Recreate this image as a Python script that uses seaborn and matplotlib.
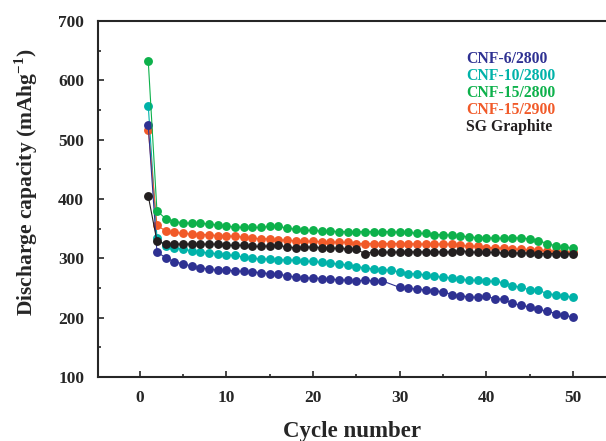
import numpy as np
import pandas as pd
import matplotlib
matplotlib.use('Agg')
import matplotlib.pyplot as plt
from matplotlib.ticker import MultipleLocator
import seaborn as sns

cycles = list(range(1, 51))

cnf6_2800 = [524, 311, 301, 294, 291, 287, 284, 282, 280, 280,
             279, 278, 277, 276, 274, 273, 271, 268, 267, 267,
             266, 265, 264, 263, 262, 263, 262, 262, np.nan, 251,
             250, 248, 247, 245, 244, 239, 237, 235, 234, 236,
             232, 231, 224, 221, 218, 214, 211, 207, 204, 201]

cnf10_2800 = [557, 335, 320, 318, 315, 313, 311, 309, 308, 306,
              305, 302, 300, 299, 299, 298, 297, 297, 295, 295,
              293, 292, 290, 289, 286, 284, 282, 281, 280, 277,
              274, 274, 272, 270, 268, 267, 265, 263, 263, 262,
              261, 259, 254, 251, 247, 247, 240, 239, 237, 234]

cnf15_2800 = [632, 380, 367, 362, 360, 359, 359, 358, 356, 354,
              353, 352, 352, 352, 354, 354, 351, 349, 347, 347,
              346, 346, 345, 345, 345, 345, 345, 345, 345, 344,
              344, 342, 342, 340, 340, 339, 338, 336, 335, 335,
              334, 334, 335, 334, 333, 330, 325, 321, 319, 317]

cnf15_2900 = [516, 356, 346, 344, 342, 341, 340, 340, 338, 338,
              337, 336, 334, 333, 333, 331, 331, 329, 329, 329,
              328, 328, 327, 327, 325, 325, 325, 325, 325, 325,
              325, 324, 324, 324, 324, 324, 322, 321, 320, 318,
              318, 317, 316, 315, 314, 314, 313, 312, 311, 310]

sg_graphite = [405, 329, 324, 324, 324, 324, 324, 324, 324, 322,
               322, 322, 320, 320, 321, 322, 319, 318, 319, 319,
               318, 317, 317, 316, 315, 308, 311, 311, 310, 311,
               311, 311, 311, 311, 311, 311, 313, 311, 310, 310,
               310, 309, 309, 309, 309, 308, 308, 308, 308, 307]

labels = ['CNF-6/2800', 'CNF-10/2800', 'CNF-15/2800', 'CNF-15/2900', 'SG Graphite']
series = [cnf6_2800, cnf10_2800, cnf15_2800, cnf15_2900, sg_graphite]
colors = ['#2e3192', '#00b2a9', '#0db14b', '#f15a29', '#231f20']

sns.set_style('ticks')
plt.rcParams['font.family'] = ['Liberation Serif', 'DejaVu Serif']
plt.rcParams['font.weight'] = 'bold'
plt.rcParams['mathtext.fontset'] = 'custom'
plt.rcParams['mathtext.rm'] = 'Liberation Serif:bold'
plt.rcParams['mathtext.bf'] = 'Liberation Serif:bold'

fig = plt.figure(figsize=(6.06, 4.41), dpi=100)
ax = fig.add_axes([0.1617, 0.1451, 0.8383, 0.8073])

draw_order = [1, 3, 0, 2, 4]
for i in draw_order:
    d = pd.DataFrame({'cycle': cycles, 'cap': series[i]}).dropna()
    sns.lineplot(data=d, x='cycle', y='cap', ax=ax, color=colors[i],
                 marker='o', markersize=6.4, markeredgewidth=0,
                 linewidth=0.8)

ax.set_xlim(-4.8, 53.8)
ax.set_ylim(100, 700)
ax.xaxis.set_major_locator(MultipleLocator(10))
ax.xaxis.set_minor_locator(MultipleLocator(5))
ax.yaxis.set_major_locator(MultipleLocator(100))
ax.yaxis.set_minor_locator(MultipleLocator(50))
ax.tick_params(which='both', direction='in', width=1.2, labelsize=12.5)
ax.tick_params(axis='y', pad=10)
ax.tick_params(axis='x', pad=9)
ax.tick_params(which='major', length=4)
ax.tick_params(which='minor', length=2.5)
for lab in ax.get_xticklabels() + ax.get_yticklabels():
    lab.set_fontweight('bold')

for s in ['left', 'bottom', 'top']:
    ax.spines[s].set_linewidth(1.5)
ax.spines['right'].set_visible(False)

ax.set_xlabel('Cycle number', fontsize=16.5, fontweight='bold', labelpad=11)
ax.set_ylabel('Discharge capacity (mAhg$^{-1}$)', fontsize=15.5,
              fontweight='bold')
ax.yaxis.set_label_coords(-0.115, 0.548)

for k, (lab, col) in enumerate(zip(labels, colors)):
    ax.text(0.7244, 0.893 - k * 0.0478, lab, transform=ax.transAxes,
            color=col, fontsize=11.3, fontweight='bold', va='center', ha='left')

fig.savefig('out.png', dpi=100)
